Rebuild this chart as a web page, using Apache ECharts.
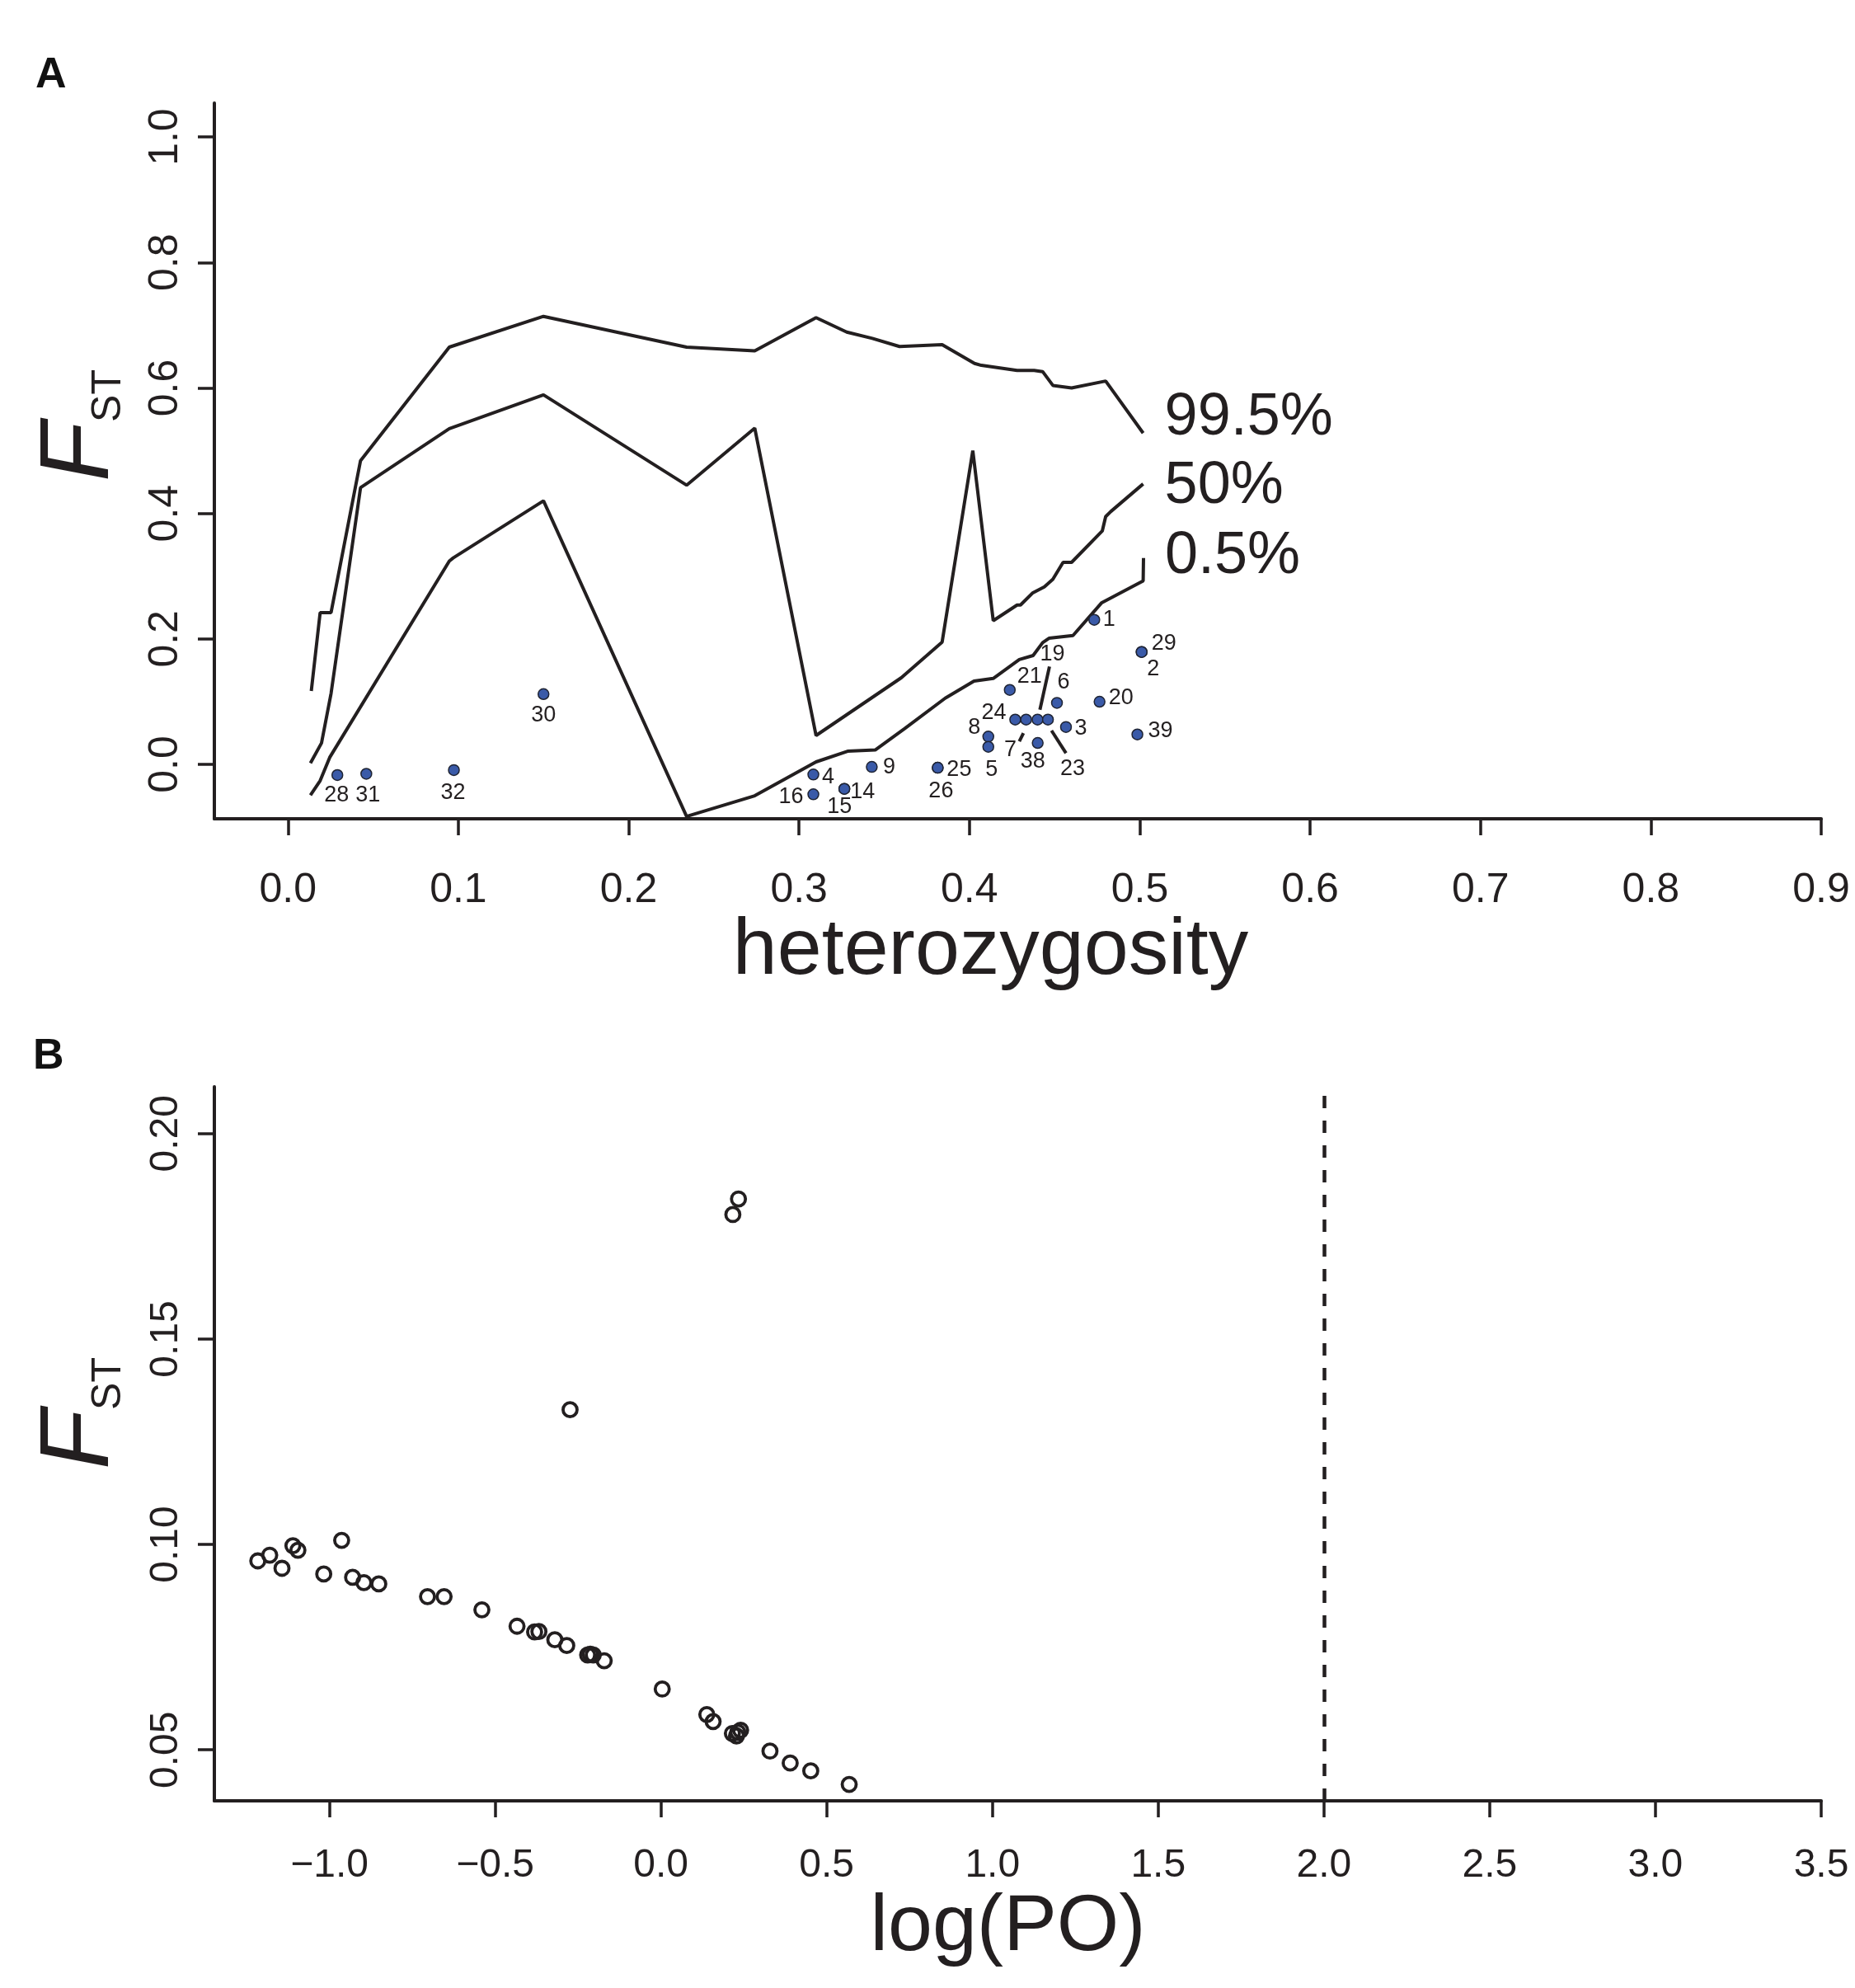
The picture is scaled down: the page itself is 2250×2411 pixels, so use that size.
<!DOCTYPE html>
<html>
<head>
<meta charset="utf-8">
<script src="https://cdn.jsdelivr.net/npm/echarts@6/dist/echarts.min.js"></script>
<style>
    html, body { margin:0; padding:0; background:#ffffff; }
    #chart { width:2250px; height:2411px; }
</style>
</head>
<body>
<div id="chart"></div>
<script>

/*
==========================
Data
==========================
*/

// panel A: FST quantile envelopes vs heterozygosity, [het, fst]
const envelope995 = [
    [0.0137,0.117],[0.0189,0.242],[0.0253,0.242],[0.0426,0.484],[0.0947,0.665],
    [0.150,0.714],[0.234,0.665],[0.274,0.659],[0.310,0.712],[0.328,0.689],
    [0.343,0.679],[0.359,0.666],[0.384,0.669],[0.403,0.639],[0.407,0.636],
    [0.428,0.628],[0.438,0.628],[0.443,0.626],[0.449,0.604],[0.460,0.600],
    [0.480,0.611],[0.502,0.528]
];

const envelope50 = [
    [0.0132,0.002],[0.0197,0.034],[0.0253,0.113],[0.0426,0.441],[0.0947,0.535],
    [0.150,0.589],[0.234,0.445],[0.274,0.536],[0.310,0.046],[0.360,0.138],
    [0.384,0.195],[0.402,0.500],[0.414,0.229],[0.428,0.254],[0.430,0.254],
    [0.437,0.273],[0.444,0.283],[0.449,0.295],[0.455,0.322],[0.460,0.322],
    [0.478,0.372],[0.480,0.395],[0.483,0.403],[0.502,0.447]
];

const envelope05 = [
    [0.0132,-0.049],[0.0189,-0.026],[0.0245,0.011],[0.0947,0.324],[0.097,0.329],
    [0.150,0.420],[0.234,-0.083],[0.274,-0.050],[0.310,0.004],[0.3285,0.021],
    [0.3447,0.023],[0.362,0.057],[0.3858,0.1055],[0.4027,0.1327],[0.414,0.137],
    [0.4293,0.167],[0.4374,0.1735],[0.443,0.194],[0.4467,0.201],[0.4608,0.2054],
    [0.4777,0.2577],[0.502,0.2925],[0.5022,0.329]
];

// loci
const locusName = ["28","31","32","30","4","16","14","15","9","25","26","8","5",
                   "21","24","7","19","23","38","6","3","1","20","39","29","2"];
const locusHet  = [0.029,0.046,0.0974,0.150,0.3084,0.3084,0.3266,0.3266,0.3427,0.3814,0.3814,0.4111,0.4111,
                   0.4237,0.4269,0.4333,0.4400,0.4461,0.4401,0.4514,0.4567,0.4733,0.4764,0.4986,0.5011,0.5011];
const locusFst  = [-0.017,-0.015,-0.009,0.112,-0.0162,-0.0477,-0.039,-0.039,-0.004,-0.0053,-0.0053,0.0443,0.028,
                   0.1187,0.0714,0.0714,0.0714,0.0714,0.0342,0.0981,0.0596,0.2304,0.0999,0.0477,0.1791,0.1791];

// leader lines for the crowded labels, [het, fst] start and end
const leader19 = [[0.447,0.156],[0.4414,0.0871]];
const leader7  = [[0.4317,0.0499],[0.4293,0.0368]];
const leader23 = [[0.4482,0.0539],[0.4567,0.018]];

const hetTicks  = [0,0.1,0.2,0.3,0.4,0.5,0.6,0.7,0.8,0.9];
const fstTicksA = [0,0.2,0.4,0.6,0.8,1.0];

// panel B: FST vs log(PO)
const logPO = [-1.216,-1.180,-1.143,-1.110,-1.095,-1.017,-0.963,-0.930,-0.896,-0.851,
               -0.704,-0.654,-0.540,-0.434,-0.381,-0.368,-0.320,-0.284,-0.221,-0.213,
               -0.204,-0.171,0.004,0.1385,0.1575,0.2156,0.228,0.232,0.2405,0.329,
               0.390,0.452,0.568,0.217,0.234,-0.274];
const fstB  = [0.0960,0.0974,0.0942,0.0997,0.0986,0.0928,0.1010,0.0920,0.0907,0.0904,
               0.0873,0.0873,0.0841,0.0801,0.0787,0.0788,0.0768,0.0754,0.0731,0.0733,
               0.0731,0.0717,0.0648,0.0586,0.0569,0.0540,0.0534,0.0543,0.0548,0.0497,
               0.0468,0.0449,0.0416,0.1803,0.1841,0.1328];

const poThreshold = 2.0;

const logTicks  = [-1.0,-0.5,0,0.5,1.0,1.5,2.0,2.5,3.0,3.5];
const fstTicksB = [0.05,0.10,0.15,0.20];


/*
==========================
Styling
==========================
*/

const ink = "#231f20";
const sans = "Liberation Sans";

// label placement around each locus, in pixels from the dot centre
const labelOffset = {
    "28":[-1,25], "31":[2,26], "32":[-1,28], "30":[0,26],
    "4":[18,3], "16":[-27,3], "14":[22,4], "15":[-6,22], "9":[21,0],
    "25":[26,2], "26":[4,28], "8":[-17,-11], "5":[4,28],
    "21":[24,-16], "24":[-26,-8], "7":[-19,37], "19":[18,-79], "23":[30,60],
    "38":[-6,23], "6":[8,-25], "3":[18,2], "1":[18,0], "20":[26,-4],
    "39":[28,-4], "29":[27,-10], "2":[14,21]
};

function fstName(padLeft){
    return {
        name:"{f|F}{s|ST}",
        nameLocation:"middle",
        nameRotate:90,
        nameGap:103,
        nameTextStyle:{
            padding:[0,0,0,padLeft],
            rich:{
                f:{fontSize:118, lineHeight:118, fontStyle:"italic", fontFamily:sans, color:ink},
                s:{fontSize:50, lineHeight:58, fontFamily:sans, color:ink, verticalAlign:"bottom"}
            }
        }
    };
}

function envelopeSeries(data, text, offset){
    return {
        type:"line",
        xAxisIndex:0,
        yAxisIndex:0,
        data:data,
        symbol:"none",
        lineStyle:{color:ink, width:4},
        endLabel:{
            show:true,
            formatter:text,
            distance:26,
            offset:offset,
            fontSize:72,
            fontFamily:sans,
            color:ink
        },
        z:2
    };
}

function leaderSeries(data){
    return {
        type:"line",
        xAxisIndex:0,
        yAxisIndex:0,
        data:data,
        symbol:"none",
        lineStyle:{color:ink, width:4},
        z:3
    };
}


/*
==========================
Chart
==========================
*/

const chart = echarts.init(document.getElementById("chart"), null, {width:2250, height:2411});

const locusData = locusName.map((n, i) => ({
    name:n,
    value:[locusHet[i], locusFst[i]],
    label:{offset:labelOffset[n]}
}));

const poData = logPO.map((x, i) => [x, fstB[i]]);

chart.setOption({

    animation:false,
    backgroundColor:"#ffffff",
    textStyle:{fontFamily:sans, color:ink},

    grid:[
        {left:260, top:125, width:1949, height:868, containLabel:false, outerBoundsMode:"none"},
        {left:260, top:1318, width:1949, height:866, containLabel:false, outerBoundsMode:"none"}
    ],

    xAxis:[
        {
            gridIndex:0,
            type:"value",
            min:-0.0432,
            max:0.9,
            axisLine:{onZero:false, lineStyle:{color:ink, width:4}},
            axisTick:{customValues:hetTicks, length:20, lineStyle:{color:ink, width:3.5}},
            axisLabel:{customValues:hetTicks, formatter:v => v.toFixed(1), fontSize:50, color:ink, margin:62},
            splitLine:{show:false},
            name:"heterozygosity",
            nameLocation:"middle",
            nameGap:95,
            nameTextStyle:{fontSize:97, color:ink, padding:[0,66,0,0]}
        },
        {
            gridIndex:1,
            type:"value",
            min:-1.347,
            max:3.5,
            axisLine:{onZero:false, lineStyle:{color:ink, width:4}},
            axisTick:{customValues:logTicks, length:20, lineStyle:{color:ink, width:3.5}},
            axisLabel:{
                customValues:logTicks,
                formatter:v => v < 0 ? "\u2212" + (-v).toFixed(1) : v.toFixed(1),
                fontSize:48,
                color:ink,
                margin:55
            },
            splitLine:{show:false},
            name:"log(PO)",
            nameLocation:"middle",
            nameGap:106,
            nameTextStyle:{fontSize:97, color:ink, padding:[0,24,0,0]}
        }
    ],

    yAxis:[
        Object.assign({
            gridIndex:0,
            type:"value",
            min:-0.0867,
            max:1.054,
            axisLine:{onZero:false, lineStyle:{color:ink, width:4}},
            axisTick:{customValues:fstTicksA, length:20, lineStyle:{color:ink, width:3.5}},
            axisLabel:{customValues:fstTicksA, formatter:v => v.toFixed(1), rotate:90, fontSize:50, color:ink, margin:34},
            splitLine:{show:false}
        }, fstName(86)),
        Object.assign({
            gridIndex:1,
            type:"value",
            min:0.0376,
            max:0.2114,
            axisLine:{onZero:false, lineStyle:{color:ink, width:4}},
            axisTick:{customValues:fstTicksB, length:20, lineStyle:{color:ink, width:3.5}},
            axisLabel:{customValues:fstTicksB, formatter:v => v.toFixed(2), rotate:90, fontSize:48, color:ink, margin:34},
            splitLine:{show:false}
        }, fstName(74))
    ],

    graphic:[
        {type:"text", left:43, top:66, style:{text:"A", fontSize:52, fontWeight:"bold", fontFamily:sans, fill:"#111"}},
        {type:"text", left:40, top:1256, style:{text:"B", fontSize:52, fontWeight:"bold", fontFamily:sans, fill:"#111"}}
    ],

    series:[

        envelopeSeries(envelope995, "99.5%", [0,-18]),
        envelopeSeries(envelope50, "50%", [0,3]),
        envelopeSeries(envelope05, "0.5%", [0,-2]),

        leaderSeries(leader19),
        leaderSeries(leader7),
        leaderSeries(leader23),

        {
            type:"scatter",
            xAxisIndex:0,
            yAxisIndex:0,
            data:locusData,
            symbol:"circle",
            symbolSize:13,
            itemStyle:{color:"#3a5aa8", borderColor:"#1f2433", borderWidth:1.5, opacity:1},
            label:{
                show:true,
                position:"inside",
                formatter:p => p.name,
                fontFamily:sans,
                fontSize:27,
                color:ink
            },
            z:4
        },

        {
            type:"scatter",
            xAxisIndex:1,
            yAxisIndex:1,
            data:poData,
            symbol:"circle",
            symbolSize:17,
            itemStyle:{color:"rgba(0,0,0,0)", borderColor:ink, borderWidth:3.8, opacity:1},
            markLine:{
                silent:true,
                symbol:["none","none"],
                label:{show:false},
                lineStyle:{color:ink, width:4.5, type:[15,15]},
                data:[{xAxis:poThreshold}]
            },
            z:4
        }

    ]

});

</script>
</body>
</html>
